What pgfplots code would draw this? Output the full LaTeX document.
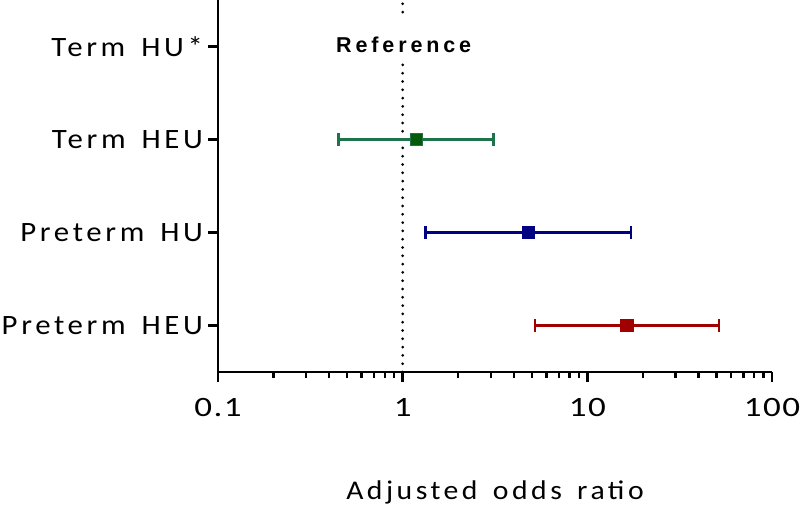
\documentclass[border=0pt]{standalone}
\usepackage{fontspec}
\setmainfont{Carlito}[FakeStretch=1.1, LetterSpace=13, WordSpace=1.5]
\newfontfamily\tickfont{Carlito}[FakeStretch=1.25, LetterSpace=5]
\newfontfamily\reffont{Liberation Sans}[LetterSpace=18]
\usepackage{pgfplots}
\pgfplotsset{compat=1.18}
\definecolor{gline}{RGB}{30,115,75}
\definecolor{gfill}{RGB}{5,90,10}
\definecolor{bline}{RGB}{0,0,130}
\definecolor{rline}{RGB}{160,0,0}
\begin{document}
\begin{tikzpicture}
\begin{axis}[
  xmode=log, xmin=0.1, xmax=100, ymin=0.5, ymax=4.5,
  width=554bp, height=372bp, scale only axis,
  axis x line*=bottom, axis y line*=left,
  axis line style={line width=2.6bp, black},
  xtick={0.1,1,10,100}, xticklabels={0.1,1,10,100},
  ytick={1,2,3,4}, yticklabels={Preterm HEU, Preterm HU, Term HEU, Term HU*},
  tick align=outside, major tick length=10bp, minor tick length=6bp,
  every tick/.style={black, line width=2.4bp},
  yticklabel style={font=\fontsize{28bp}{34bp}\selectfont, inner sep=2bp, xshift=-3bp},
  xticklabel style={font=\tickfont\fontsize{28bp}{34bp}\selectfont, inner sep=2bp, yshift=-14bp},
  xlabel={Adjusted odds ratio},
  xlabel style={font=\fontsize{27bp}{32bp}\selectfont, at={(axis description cs:0.5,0)}, anchor=base, yshift=-127bp},
  clip=false,
]
\coordinate (O) at (rel axis cs:0,0);
% reference line
\addplot[black, line width=3bp, line cap=round, dash pattern=on 0pt off 8.3bp] coordinates {(1,0.5) (1,3.82)};
\addplot[black, line width=3bp, line cap=round, dash pattern=on 0pt off 8.3bp] coordinates {(1,4.37) (1,4.5)};
% Term HEU
\addplot[gline, line width=2.5bp, mark=|, mark size=6.3bp, mark options={solid, line width=2.5bp}] coordinates {(0.45,3) (3.10,3)};
\addplot[only marks, mark=square*, mark size=6.2bp, mark options={fill=gfill, draw=gline, line width=0.8bp}] coordinates {(1.19,3)};
% Preterm HU
\addplot[bline, line width=2.5bp, mark=|, mark size=6.3bp, mark options={solid, line width=2.5bp}] coordinates {(1.33,2) (17.2,2)};
\addplot[only marks, mark=square*, mark size=6.2bp, mark options={fill=bline, draw=bline, line width=0.8bp}] coordinates {(4.78,2)};
% Preterm HEU
\addplot[rline, line width=2.5bp, mark=|, mark size=6.3bp, mark options={solid, line width=2.5bp}] coordinates {(5.20,1) (51.5,1)};
\addplot[only marks, mark=square*, mark size=6.2bp, mark options={fill=rline, draw=rline, line width=0.8bp}] coordinates {(16.4,1)};
\node[font=\reffont\bfseries\fontsize{21.5bp}{25bp}\selectfont, xshift=1bp] at (axis cs:1,4.016) {Reference};
\end{axis}
\pgfresetboundingbox
\path[use as bounding box] (O) ++(-218bp,-134bp) rectangle ++(800bp,506bp);
\end{tikzpicture}
\end{document}
